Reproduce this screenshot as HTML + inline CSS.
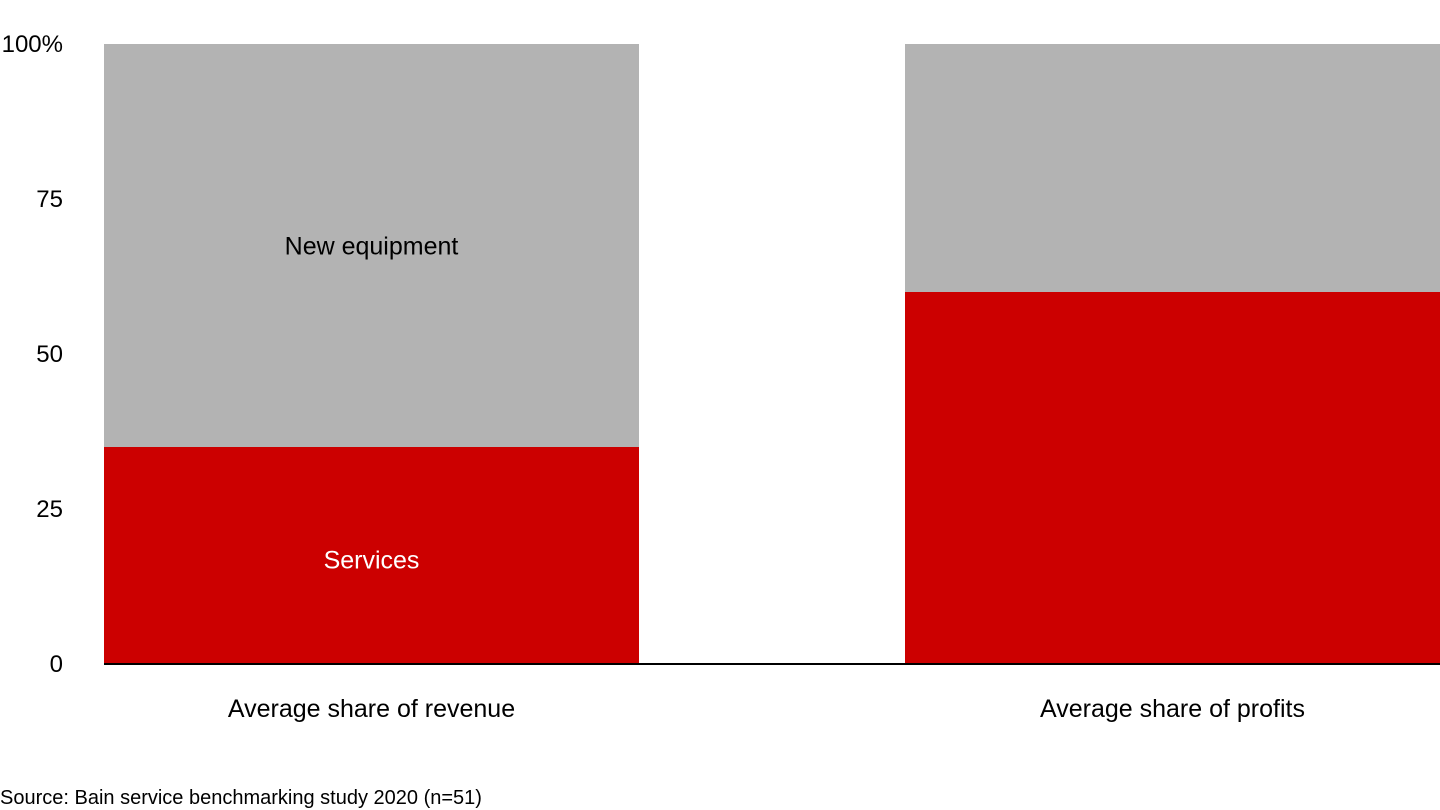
<!DOCTYPE html>
<html><head><meta charset="utf-8"><style>
html,body{margin:0;padding:0;background:#fff;}
svg{display:block;font-family:"Liberation Sans",Arial,sans-serif;}
</style></head><body>
<svg id="chart" width="1440" height="810" viewBox="0 0 1440 810"></svg>
<script>
const categories = ["Average share of revenue", "Average share of profits"];
const servicesValues = [35, 60];
const equipmentValues = [65, 40];
const tickValues = [0, 25, 50, 75, 100];
const tickLabels = ["0", "25", "50", "75", "100%"];

const NS = "http://www.w3.org/2000/svg";
const svg = document.getElementById("chart");
const y0 = 664, yTop = 44;
const yScale = v => y0 - (v / 100) * (y0 - yTop);
const barLefts0 = 104, bandStep = 801, barW = 535;
const xBand = i => barLefts0 + i * bandStep;

function mk(tag, attrs, text) {
  const el = document.createElementNS(NS, tag);
  for (const k in attrs) el.setAttribute(k, attrs[k]);
  if (text !== undefined) el.textContent = text;
  svg.appendChild(el);
  return el;
}

tickValues.forEach((v, i) => {
  const t = mk("text", {x: 63, y: yScale(v) + 8, "text-anchor": "end", "font-size": 24, fill: "#000"}, tickLabels[i]);
  
  
});

categories.forEach((c, i) => {
  const x = xBand(i);
  const tot = servicesValues[i] + equipmentValues[i];
  const eq = mk("rect", {x: x, y: yScale(tot), width: barW, height: yScale(servicesValues[i]) - yScale(tot), fill: "#b3b3b3"});
  
  
  const sv = mk("rect", {x: x, y: yScale(servicesValues[i]), width: barW, height: y0 - yScale(servicesValues[i]), fill: "#cc0000"});
  
  
  const lab = mk("text", {x: x + barW / 2, y: 717, "text-anchor": "middle", "font-size": 25, fill: "#000"}, c);
  
  
  if (i === 0) {
    const l1 = mk("text", {x: x + barW / 2, y: (yScale(tot) + yScale(servicesValues[i])) / 2 + 9, "text-anchor": "middle", "font-size": 25, fill: "#000"}, "New equipment");
    
    
    const l2 = mk("text", {x: x + barW / 2, y: (y0 + yScale(servicesValues[i])) / 2 + 13, "text-anchor": "middle", "font-size": 25, fill: "#fff"}, "Services");
    
    
  }
});

const axis = mk("line", {x1: 104, x2: 1440, y1: y0, y2: y0, stroke: "#000", "stroke-width": 2});



const src = mk("text", {x: 0, y: 804, "font-size": 20, fill: "#000"}, "Source: Bain service benchmarking study 2020 (n=51)");


</script>
</body></html>
